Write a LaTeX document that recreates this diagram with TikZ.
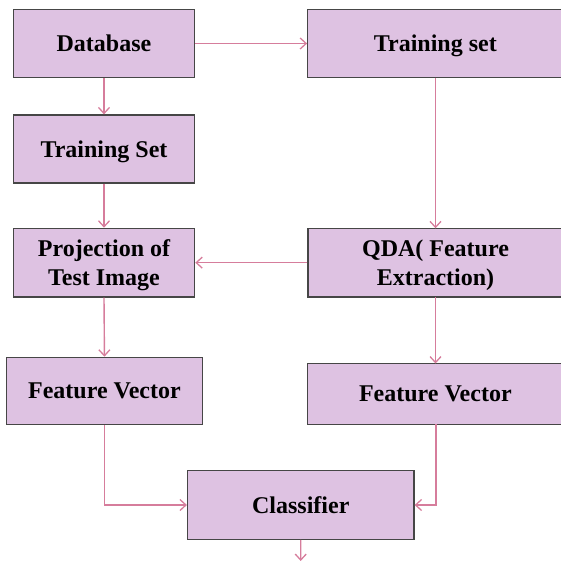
\documentclass[tikz,border=0pt]{standalone}
\usepackage{fontspec}
\setmainfont{Liberation Serif}
\usetikzlibrary{arrows.meta}
\definecolor{boxfill}{RGB}{222,194,226}
\definecolor{boxline}{RGB}{70,70,70}
\definecolor{arrcol}{RGB}{214,125,156}
\tikzset{
  blk/.style={draw=boxline, line width=1.2pt, fill=boxfill, inner sep=0pt, align=center,
    text depth=0pt, font=\fontsize{24}{29}\selectfont\bfseries},
  arr/.style={draw=arrcol, line width=1.4pt, -{Straight Barb[length=6pt,width=11pt,line width=1.3pt]}}
}
\newcommand{\mybox}[6]{%
  \node[blk, minimum width={(#4-#2)*1pt}, minimum height={(#5-#3)*1pt}] (#1) at ({(#2+#4)/2},{(#3+#5)/2}) {#6};}
\begin{document}
\begin{tikzpicture}[x=1pt,y=-1pt]
\useasboundingbox (0,0) rectangle (561,561);
\mybox{db}{13.3}{9.3}{194.7}{77.7}{Database}
\mybox{tsa}{307.7}{9.3}{563}{77.7}{Training set}
\mybox{tsb}{13.3}{115}{194.7}{183}{Training Set}
\mybox{proj}{13.3}{228.3}{194.7}{297}{Projection of\\Test Image}
\mybox{qda}{308}{228.3}{563}{297}{QDA( Feature\\Extraction)}
\mybox{fva}{6.4}{357.3}{202.5}{424.3}{Feature Vector}
\mybox{fvb}{307.7}{363.5}{563}{424.3}{Feature Vector}
\mybox{cls}{187.5}{470.7}{414}{539.3}{Classifier}
\coordinate (out) at (300.7,561);
\draw[arr] (db.east) -- (tsa.west);
\draw[arr] (db.south) -- (tsb.north);
\draw[arr] (tsb.south) -- (proj.north);
\draw[arr] (435.5,77.7) -- (435.5,228.3);
\draw[arr] (qda.west) -- (proj.east);
\draw[arr] (proj.south) -- (fva.north);
\draw[arr] (435.5,297) -- (435.5,363.5);
\draw[arr] (fva.south) |- (cls.west);
\draw[arr] (435.8,424.3) |- (cls.east);
\draw[arr] (cls.south) -- (out);
\end{tikzpicture}
\end{document}
